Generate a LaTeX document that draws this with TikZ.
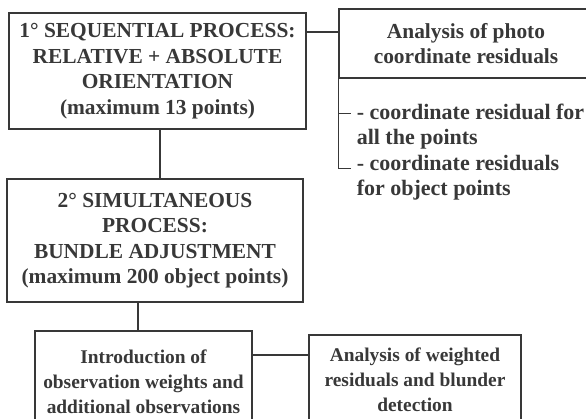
\documentclass[tikz,border=0pt]{standalone}
\usepackage{fontspec}
\setmainfont{Liberation Serif}
\usepackage{tikz}
\usetikzlibrary{calc}
\usetikzlibrary{positioning}

\definecolor{inkgray}{gray}{0.22}

\tikzset{
  flowbox/.style={draw, align=center, inner sep=0pt,
    font=\fontsize{21.4}{25.5}\selectfont\bfseries},
  lowbox/.style={flowbox,
    font=\fontsize{19.4}{25}\selectfont\bfseries},
  notetext/.style={align=left, inner sep=0pt,
    font=\fontsize{22}{25.5}\selectfont\bfseries}
}

\begin{document}
\begin{tikzpicture}
  [
    x=1pt,
    y=-1pt,
    color=inkgray,
    line width=1.5pt
  ]
    \path[use as bounding box] (0,0) rectangle (586,419);
    \clip (0,0) rectangle (586,419);
    \node[flowbox, minimum width=297, minimum height=116] (seq) at (157.5,71)
      {1° SEQUENTIAL PROCESS:\\RELATIVE + ABSOLUTE\\ORIENTATION\\(maximum 13 points)};
    \node[flowbox, minimum width=296, minimum height=123] (sim) at (155,240.5)
      {2° SIMULTANEOUS\\PROCESS:\\BUNDLE ADJUSTMENT\\(maximum 200 object points)};
    \node[flowbox, minimum width=254, minimum height=69] (photo) at (466,43.5)
      {Analysis of photo\\coordinate residuals};
    \node[lowbox, minimum width=217, minimum height=102] (intro) at (143.5,382)
      {Introduction of\\observation weights and\\additional observations};
    \node[lowbox, minimum width=212, minimum height=90] (blunder) at (415,380)
      {Analysis of weighted\\residuals and blunder\\detection};
    \node[notetext, anchor=north west] (resid) at (356,103)
      {- coordinate residual for\\all the points\\- coordinate residuals\\for object points};
    %connectors
    \coordinate (c1) at ($(seq.north east)+(0,20)$);
    \draw (c1) -- (c1 -| photo.west);
    \coordinate (c2) at ($(seq.south)+(2.5,0)$);
    \draw (c2) -- (c2 |- sim.north);
    \coordinate (c3) at ($(intro.north)+(-5.5,0)$);
    \draw (c3) -- (c3 |- sim.south);
    \coordinate (c4) at ($(intro.north east)+(0,25)$);
    \draw (c4) -- (c4 -| blunder.west);
    \coordinate (c5) at ($(photo.south west)+(0,35)$);
    \coordinate (c6) at ($(photo.south west)+(0,90)$);
    \draw (photo.south west) -- (c6) -- ++(13,0);
    \draw (c5) -- ++(13,0);
  \end{tikzpicture}
\end{document}
